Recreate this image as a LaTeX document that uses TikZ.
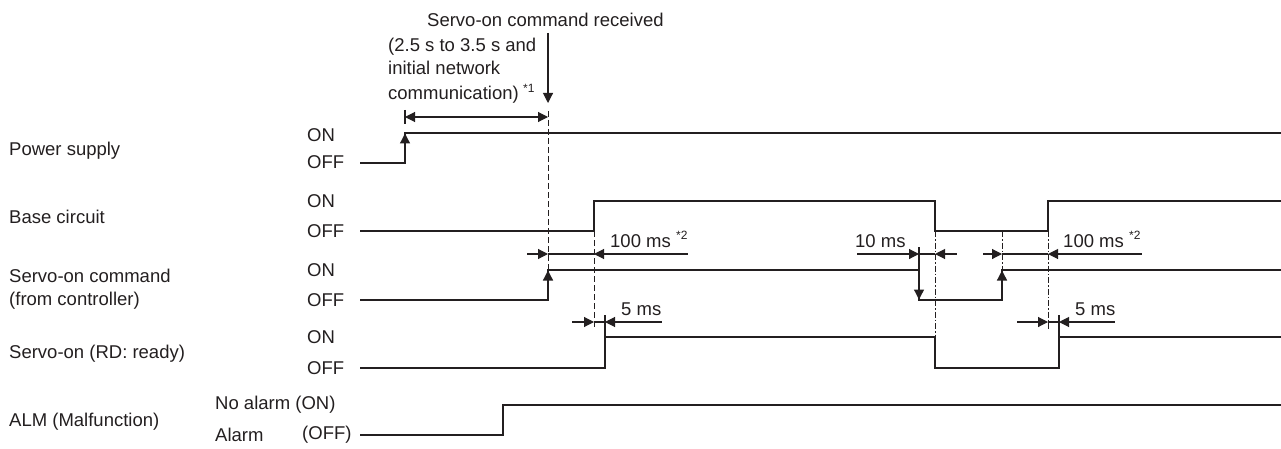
\documentclass[tikz,border=0pt]{standalone}
\usepackage{fontspec}
\setmainfont{Liberation Sans}
\usetikzlibrary{arrows.meta}
\definecolor{ink}{HTML}{231F20}
\tikzset{
  sig/.style={line width=1.3pt, draw=ink},
  dim/.style={line width=1.1pt, draw=ink},
  tipa/.tip={Triangle[length=10pt,width=10pt]},
  dsh/.style={line width=1pt, draw=ink, dash pattern=on 6pt off 3pt},
  ddot/.style={line width=1pt, draw=ink, dash pattern=on 6pt off 2pt on 1.5pt off 2pt},
  txt/.style={inner sep=0pt, anchor=base west, font=\fontsize{18.5}{21}\selectfont, text=ink},
  lvl/.style={inner sep=0pt, anchor=west, font=\fontsize{18.5}{21}\selectfont, text=ink},
  sup/.style={inner sep=0pt, anchor=base west, font=\fontsize{12}{14}\selectfont, text=ink},
}
\begin{document}
\begin{tikzpicture}[x=1pt,y=-1pt]
\useasboundingbox (0,0) rectangle (1281,449);
% ---------- left labels
\node[txt] (lps) at (9,156) {Power supply};
\node[txt] (lbc) at (9,223) {Base circuit};
\node[txt] (lsc1) at (9,282) {Servo-on command};
\node[txt] (lsc2) at (9,305) {(from controller)};
\node[txt] (lrd) at (9,358) {Servo-on (RD: ready)};
\node[txt] (lalm) at (9,426) {ALM (Malfunction)};
% ---------- ON/OFF labels
\node[lvl] (pon) at (307,135) {ON};
\node[lvl] (poff) at (307,162) {OFF};
\node[lvl] (bon) at (307,201) {ON};
\node[lvl] (boff) at (307,231) {OFF};
\node[lvl] (con) at (307,270) {ON};
\node[lvl] (coff) at (307,300) {OFF};
\node[lvl] (ron) at (307,337) {ON};
\node[lvl] (roff) at (307,368) {OFF};
\node[lvl] (aon) at (215,405) {No alarm (ON)};
\node[lvl] (aoff1) at (215,435) {Alarm};
\node[lvl] (aoff2) at (302,435) {(OFF)};
% ---------- top annotation
\node[txt] (rcv) at (427,27) {Servo-on command received};
\node[txt] (n1) at (388,52) {(2.5 s to 3.5 s and};
\node[txt] (n2) at (388,75) {initial network};
\node[txt] (n3) at (388,100) {communication)};
\node[sup] (s1) at (523,93) {*1};
\coordinate (rcvtop) at (548,33);
\coordinate (rcvtip) at (548,103);
\draw[dim,-tipa] (rcvtop) -- (rcvtip);
\coordinate (d0a) at (405,117);
\coordinate (d0b) at (548,117);
\draw[dim,tipa-tipa] (d0a) -- (d0b);
\draw[dim] (405,110) -- (405,124);
% ---------- Power supply
\draw[sig] (360,163) -- (405,163) -- (405,133) -- (1281,133);
\draw[sig,-tipa] (405,163) -- (405,133.5);
% ---------- Base circuit
\draw[sig] (360,231) -- (594,231) -- (594,201) -- (935,201) -- (935,231) -- (1048,231) -- (1048,201) -- (1281,201);
% ---------- Servo-on command
\draw[sig] (360,300) -- (548,300) -- (548,270) -- (919,270) -- (919,300) -- (1002,300) -- (1002,270) -- (1281,270);
\draw[sig,-tipa] (548,300) -- (548,270.5);
\draw[sig,-tipa] (919,270) -- (919,299.5);
\draw[sig,-tipa] (1002,300) -- (1002,270.5);
\draw[dim] (919,247) -- (919,270);
% ---------- Servo-on RD
\draw[sig] (360,368) -- (605,368) -- (605,337) -- (935,337) -- (935,368) -- (1059,368) -- (1059,337) -- (1281,337);
\draw[dim] (605,315) -- (605,337);
\draw[dim] (1059,315) -- (1059,337);
% ---------- ALM
\draw[sig] (360,435) -- (503,435) -- (503,405) -- (1281,405);
% ---------- guide lines
\draw[dsh] (548,111) -- (548,270);
\draw[dsh] (594,231) -- (594,329);
\draw[ddot] (935,231) -- (935,337);
\draw[ddot] (1002,231) -- (1002,270);
\draw[ddot] (1048,231) -- (1048,329);
% ---------- 100 ms (first)
\draw[dim,-tipa] (527,254) -- (548,254);
\draw[dim] (548,254) -- (594,254);
\draw[dim,tipa-] (594,254) -- (688,254);
\node[txt] (t100a) at (610,247) {100 ms};
\node[sup] (s2a) at (676,239) {*2};
% ---------- 10 ms
\draw[dim,-tipa] (857,254) -- (919,254);
\draw[dim] (919,254) -- (935,254);
\draw[dim,tipa-] (935,254) -- (957,254);
\node[txt] (t10) at (855,247) {10 ms};
% ---------- 100 ms (second)
\draw[dim,-tipa] (983,254) -- (1002,254);
\draw[dim] (1002,254) -- (1048,254);
\draw[dim,tipa-] (1048,254) -- (1142,254);
\node[txt] (t100b) at (1063,247) {100 ms};
\node[sup] (s2b) at (1129,239) {*2};
% ---------- 5 ms
\draw[dim,-tipa] (572,322) -- (594,322);
\draw[dim] (594,322) -- (605,322);
\draw[dim,tipa-] (605,322) -- (662,322);
\node[txt] (t5a) at (621,315) {5 ms};
\draw[dim,-tipa] (1017,322) -- (1048,322);
\draw[dim] (1048,322) -- (1059,322);
\draw[dim,tipa-] (1059,322) -- (1115,322);
\node[txt] (t5b) at (1075,315) {5 ms};
\end{tikzpicture}
\end{document}
